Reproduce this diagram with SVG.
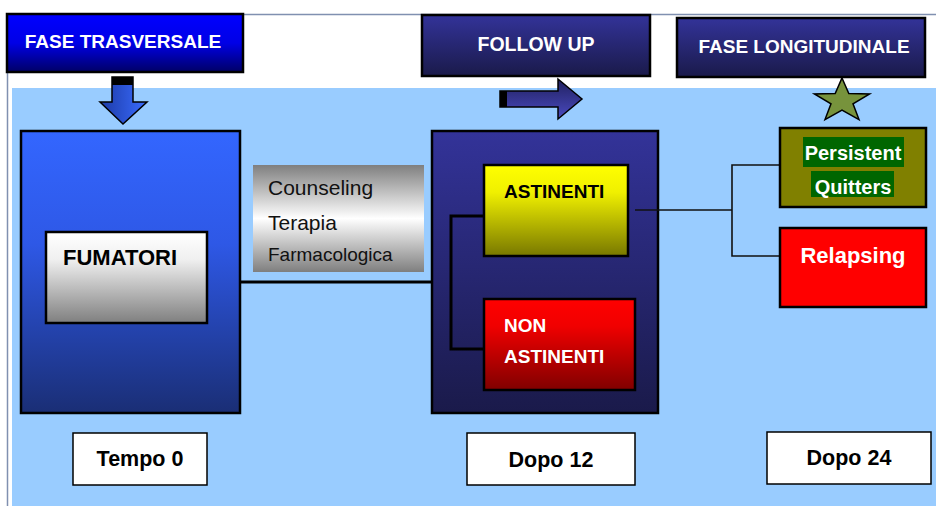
<svg xmlns="http://www.w3.org/2000/svg" width="936" height="506" viewBox="0 0 936 506">
  <defs>
    <linearGradient id="gTrasv" x1="0" y1="0" x2="0" y2="1">
      <stop offset="0" stop-color="#0000ff"/>
      <stop offset="0.5" stop-color="#0000e6"/>
      <stop offset="1" stop-color="#000066"/>
    </linearGradient>
    <linearGradient id="gNavy" x1="0" y1="0" x2="0" y2="1">
      <stop offset="0" stop-color="#333399"/>
      <stop offset="1" stop-color="#1a1a4a"/>
    </linearGradient>
    <linearGradient id="gBlue" x1="0" y1="0" x2="0" y2="1">
      <stop offset="0" stop-color="#3366ff"/>
      <stop offset="0.4" stop-color="#2e58e6"/>
      <stop offset="1" stop-color="#1a2e75"/>
    </linearGradient>
    <linearGradient id="gGray" x1="0" y1="0" x2="0" y2="1">
      <stop offset="0" stop-color="#ffffff"/>
      <stop offset="0.3" stop-color="#f0f0f0"/>
      <stop offset="1" stop-color="#7f7f7f"/>
    </linearGradient>
    <linearGradient id="gCouns" x1="0" y1="0" x2="0" y2="1">
      <stop offset="0" stop-color="#7f7f7f"/>
      <stop offset="0.5" stop-color="#ffffff"/>
      <stop offset="1" stop-color="#7f7f7f"/>
    </linearGradient>
    <linearGradient id="gYellow" x1="0" y1="0" x2="0" y2="1">
      <stop offset="0" stop-color="#ffff00"/>
      <stop offset="0.3" stop-color="#f0f000"/>
      <stop offset="1" stop-color="#787800"/>
    </linearGradient>
    <linearGradient id="gRed" x1="0" y1="0" x2="0" y2="1">
      <stop offset="0" stop-color="#ff0000"/>
      <stop offset="0.3" stop-color="#f00000"/>
      <stop offset="1" stop-color="#800000"/>
    </linearGradient>
    <linearGradient id="gArrDown" x1="0" y1="0" x2="1" y2="0">
      <stop offset="0" stop-color="#1c3aa6"/>
      <stop offset="1" stop-color="#3a6cff"/>
    </linearGradient>
    <linearGradient id="gArrRight" x1="0" y1="0" x2="0" y2="1">
      <stop offset="0" stop-color="#20205e"/>
      <stop offset="1" stop-color="#4a4ac0"/>
    </linearGradient>
    <style>
      .bold { font-family: "Liberation Sans", Arial, sans-serif; font-weight: bold; }
      .reg { font-family: "Liberation Sans", Arial, sans-serif; }
      .w { fill: #ffffff; }
      .k { fill: #000000; }
      .box { stroke: #000000; stroke-width: 2.5; }
      .thin { stroke: #000000; stroke-width: 1.5; }
      .conn { fill: none; stroke: #000000; stroke-width: 3; }
      .connThin { fill: none; stroke: #111111; stroke-width: 1.6; }
    </style>
  </defs>

  <!-- background & frame -->
  <rect x="0" y="0" width="936" height="506" fill="#ffffff"/>
  <rect x="12" y="88" width="924" height="418" fill="#99ccff"/>
  <line x1="7" y1="14.5" x2="936" y2="14.5" stroke="#8090b0" stroke-width="1.5"/>
  <line x1="7.5" y1="14" x2="7.5" y2="506" stroke="#8090b0" stroke-width="1.5"/>

  <!-- headers -->
  <g id="fase-trasversale">
    <rect x="7" y="14" width="236" height="58" fill="url(#gTrasv)" class="box" stroke-width="2"/>
    <text x="123" y="48" class="bold w" font-size="19" text-anchor="middle">FASE TRASVERSALE</text>
  </g>
  <g id="follow-up">
    <rect x="422" y="15" width="228" height="61" fill="url(#gNavy)" class="box" stroke-width="2"/>
    <text x="536" y="51" class="bold w" font-size="19.5" text-anchor="middle">FOLLOW UP</text>
  </g>
  <g id="fase-longitudinale">
    <rect x="677" y="18" width="248" height="59" fill="url(#gNavy)" class="box" stroke-width="2"/>
    <text x="804" y="53" class="bold w" font-size="19" text-anchor="middle">FASE LONGITUDINALE</text>
  </g>

  <!-- header symbols -->
  <g id="arrow-down">
    <polygon points="112,77 133,77 133,102 147,102 123,124 100,102 112,102" fill="url(#gArrDown)" stroke="#000" stroke-width="1.5"/>
    <rect x="112" y="77" width="21" height="8" fill="#000"/>
  </g>
  <g id="arrow-right">
    <polygon points="500,91 558,91 558,79 582,99 558,119 558,107 500,107" fill="url(#gArrRight)" stroke="#000" stroke-width="1.5"/>
    <rect x="500" y="91" width="7" height="16" fill="#000"/>
  </g>
  <g id="star">
    <polygon points="842,78 848.8,93.6 869.6,93.9 853,103.8 859,119.6 842,110.2 825,119.6 831,103.8 814.4,93.9 835.2,93.6" fill="#77933c" stroke="#000" stroke-width="1.5" stroke-linejoin="miter"/>
  </g>

  <!-- container nodes -->
  <g id="fumatori-group">
    <rect x="21" y="131" width="219" height="282" fill="url(#gBlue)" class="box"/>
  </g>
  <g id="follow-group">
    <rect x="432" y="131" width="226" height="282" fill="url(#gNavy)" class="box"/>
  </g>

  <!-- connectors -->
  <g id="connectors">
    <line x1="240" y1="282" x2="432" y2="282" class="conn"/>
    <polyline points="484,216 451,216 451,349 484,349" class="conn"/>
    <line x1="635" y1="210" x2="732" y2="210" class="connThin"/>
    <polyline points="780,165 732,165 732,256 780,256" class="connThin"/>
  </g>

  <!-- inner nodes -->
  <g id="fumatori">
    <rect x="46" y="232" width="161" height="91" fill="url(#gGray)" class="box"/>
    <text x="63" y="265" class="bold k" font-size="22">FUMATORI</text>
  </g>

  <g id="counseling">
    <rect x="253" y="165" width="171" height="107" fill="url(#gCouns)"/>
    <text x="268" y="195" class="reg" fill="#111" font-size="21">Counseling</text>
    <text x="268" y="230" class="reg" fill="#111" font-size="21">Terapia</text>
    <text x="268" y="261" class="reg" fill="#111" font-size="19">Farmacologica</text>
  </g>

  <g id="astinenti">
    <rect x="484" y="165" width="144" height="91" fill="url(#gYellow)" class="box"/>
    <text x="504" y="198" class="bold k" font-size="19">ASTINENTI</text>
  </g>
  <g id="non-astinenti">
    <rect x="484" y="299" width="151" height="91" fill="url(#gRed)" class="box"/>
    <text x="504" y="332" class="bold w" font-size="19">NON</text>
    <text x="504" y="363" class="bold w" font-size="19">ASTINENTI</text>
  </g>

  <g id="persistent-quitters">
    <rect x="780" y="128" width="146" height="79" fill="#808000" class="box"/>
    <rect x="803" y="137" width="101" height="30" fill="#006600"/>
    <rect x="811" y="171" width="83" height="26" fill="#006600"/>
    <text x="853" y="160" class="bold w" font-size="20" text-anchor="middle">Persistent</text>
    <text x="853" y="194" class="bold w" font-size="20" text-anchor="middle">Quitters</text>
  </g>
  <g id="relapsing">
    <rect x="780" y="228" width="146" height="79" fill="#ff0000" class="box"/>
    <text x="853" y="263" class="bold w" font-size="22" text-anchor="middle">Relapsing</text>
  </g>

  <!-- time labels -->
  <g id="tempo-0">
    <rect x="73" y="433" width="134" height="52" fill="#ffffff" class="thin"/>
    <text x="140" y="466" class="bold k" font-size="21.5" text-anchor="middle">Tempo 0</text>
  </g>
  <g id="dopo-12">
    <rect x="467" y="433" width="168" height="52" fill="#ffffff" class="thin"/>
    <text x="551" y="467" class="bold k" font-size="21.5" text-anchor="middle">Dopo 12</text>
  </g>
  <g id="dopo-24">
    <rect x="767" y="432" width="164" height="52" fill="#ffffff" class="thin"/>
    <text x="849" y="465" class="bold k" font-size="21.5" text-anchor="middle">Dopo 24</text>
  </g>
</svg>
